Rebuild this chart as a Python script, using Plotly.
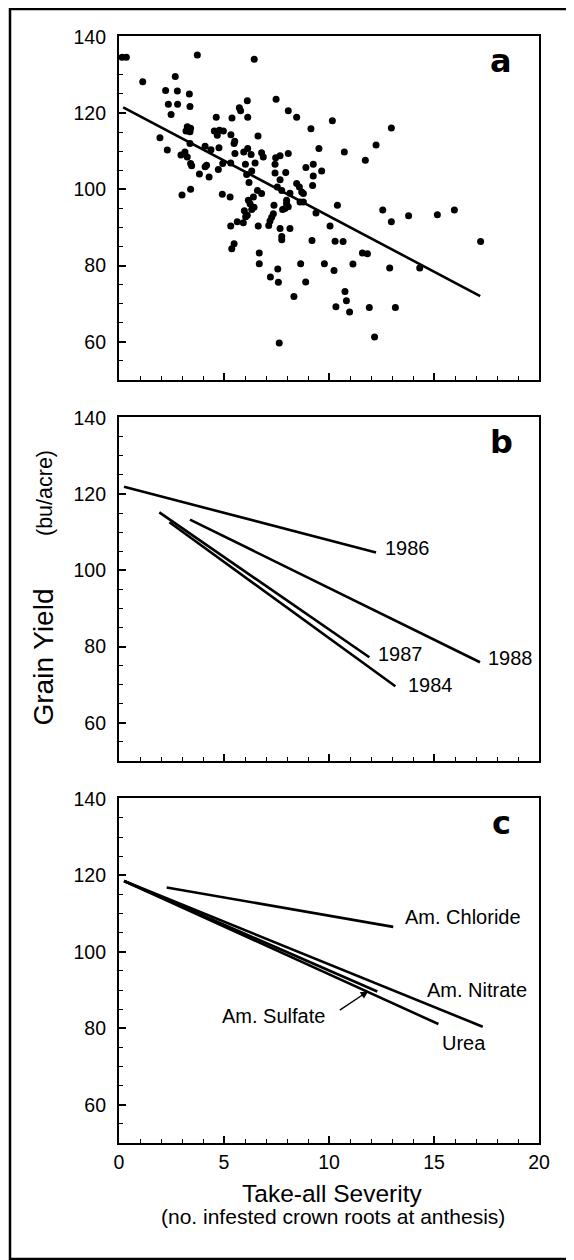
import plotly.graph_objects as go

# ---------------- data ----------------
# Panel a: individual observations (take-all severity, grain yield)
sev = [0.15, 0.35, 3.73, 6.44, 1.13, 2.68, 2.22, 2.78, 3.35, 2.35, 2.79, 3.38, 2.48, 6.11, 7.48,
       5.73, 5.79, 8.06, 8.46, 6.13, 4.63, 5.38, 10.16, 9.14, 3.25, 3.41, 3.19, 3.38, 4.54, 4.78,
       4.97, 4.68, 5.33, 1.95, 6.62, 5.51, 5.48, 3.38, 2.30, 4.10, 4.38, 4.76, 2.95, 3.14, 3.25,
       3.41, 3.46, 5.52, 5.94, 6.13, 6.29, 6.79, 6.87, 7.46, 7.67, 8.06, 9.52, 4.94, 5.32, 4.17,
       4.10, 6.02, 6.48, 7.43, 8.90, 9.25, 4.73, 3.83, 4.29, 6.08, 6.32, 7.43, 7.94, 9.25, 9.65,
       6.19, 7.67, 8.46, 8.59, 9.22, 7.54, 7.75, 6.59, 6.79, 8.14, 8.70, 8.78, 4.92, 5.29, 3.00,
       3.41, 6.40, 5.32, 5.63, 5.92, 6.03, 6.11, 5.97, 6.32, 6.43, 6.24, 6.16, 6.63, 7.13, 7.19,
       7.27, 7.35, 7.38, 7.79, 7.90, 8.06, 7.98, 7.98, 7.67, 7.75, 7.75, 8.14, 8.62, 8.78, 9.38,
       10.05, 10.29, 9.19, 10.40, 5.37, 5.48, 6.68, 6.68, 7.56, 7.21, 7.59, 8.65, 8.89, 9.78, 10.24,
       8.33, 10.33, 7.63, 12.97, 12.24, 10.73, 11.73, 12.56, 12.97, 13.79, 15.16, 15.97, 17.22, 10.67,
       11.59, 11.83, 11.14, 12.89, 14.32, 10.76, 10.83, 10.98, 11.92, 13.16, 12.17]
yld = [134.6, 134.6, 135.2, 134.1, 128.2, 129.6, 125.9, 125.8, 125.0, 122.3, 122.3, 121.7, 119.6, 123.2, 123.6,
       121.4, 120.6, 120.6, 118.9, 118.9, 118.9, 118.7, 118.0, 115.9, 116.4, 116.0, 115.3, 115.1, 115.3, 115.5,
       115.3, 114.2, 114.3, 113.5, 114.0, 112.6, 112.0, 112.0, 110.3, 111.3, 110.4, 110.9, 109.0, 109.8, 108.5,
       106.8, 106.2, 109.4, 109.8, 110.7, 109.1, 109.6, 108.5, 108.3, 108.8, 109.4, 110.7, 106.8, 106.9, 106.3,
       105.9, 106.6, 106.9, 106.6, 105.7, 106.6, 105.2, 104.0, 103.2, 103.9, 104.8, 104.3, 104.4, 103.5, 104.8,
       101.8, 102.5, 101.5, 100.6, 101.0, 100.6, 99.7, 99.7, 98.9, 99.0, 99.3, 98.9, 98.7, 98.0, 98.5,
       100.0, 98.0, 90.4, 91.5, 91.2, 92.8, 93.2, 94.4, 94.7, 95.3, 96.2, 97.1, 90.4, 90.5, 91.7,
       92.7, 93.6, 95.8, 94.7, 95.0, 95.4, 96.3, 97.1, 89.7, 87.6, 86.8, 89.7, 96.7, 96.7, 93.8,
       90.4, 86.4, 86.6, 95.8, 84.4, 85.7, 83.3, 80.5, 79.1, 77.0, 75.6, 80.5, 75.7, 80.5, 78.7,
       71.9, 69.2, 59.7, 116.1, 111.6, 109.8, 107.6, 94.6, 91.5, 93.1, 93.3, 94.6, 86.3, 86.3,
       83.3, 83.1, 80.4, 79.4, 79.4, 73.2, 70.8, 67.8, 69.0, 69.0, 61.3]

# Panel a: overall regression line (endpoints)
reg_x = [0.2, 17.2]
reg_y = [121.5, 72.0]

# Panel b: regression lines by year
years = ["1986", "1987", "1984", "1988"]
year_x0 = [0.24, 1.92, 2.40, 3.38]
year_y0 = [121.9, 115.2, 112.6, 113.3]
year_x1 = [12.24, 11.92, 13.16, 17.19]
year_y1 = [104.7, 77.2, 69.6, 75.9]

# Panel c: regression lines by nitrogen source
sources = ["Am. Chloride", "Am. Nitrate", "Urea", "Am. Sulfate"]
src_x0 = [2.27, 0.24, 0.24, 0.24]
src_y0 = [116.8, 118.5, 118.5, 118.5]
src_x1 = [13.06, 17.32, 15.21, 12.30]
src_y1 = [106.5, 80.4, 81.1, 89.6]

x_ticks = [0, 5, 10, 15, 20]
y_ticks = [60, 80, 100, 120, 140]

# ---------------- figure ----------------
FONT = "Liberation Sans, Arial, Helvetica, sans-serif"
OFF = 8                       # page offset introduced by the html body margin
W, H = 574 - OFF, 1260 - OFF
L, R, T, B = 119 - OFF, 539 - OFF, 36 - OFF, 1143 - OFF   # plot-area bounds (figure px)


def pxx(px):   # page pixel -> paper x
    return (px - OFF - L) / (R - L)


def pxy(py):   # page pixel -> paper y
    return (B - (py - OFF)) / (B - T)


fig = go.Figure()
LW = 2.6

fig.add_trace(go.Scatter(x=sev, y=yld, mode="markers",
                         marker=dict(size=7, color="black"),
                         xaxis="x", yaxis="y", showlegend=False, hoverinfo="skip"))
fig.add_trace(go.Scatter(x=reg_x, y=reg_y, mode="lines",
                         line=dict(color="black", width=LW),
                         xaxis="x", yaxis="y", showlegend=False, hoverinfo="skip"))

for i, yr in enumerate(years):
    fig.add_trace(go.Scatter(x=[year_x0[i], year_x1[i]], y=[year_y0[i], year_y1[i]],
                             mode="lines", line=dict(color="black", width=LW),
                             xaxis="x2", yaxis="y2", showlegend=False, name=yr))

for i, s in enumerate(sources):
    fig.add_trace(go.Scatter(x=[src_x0[i], src_x1[i]], y=[src_y0[i], src_y1[i]],
                             mode="lines", line=dict(color="black", width=LW),
                             xaxis="x3", yaxis="y3", showlegend=False, name=s))

domains = {
    1: [pxy(380), 1.0],
    2: [pxy(761), pxy(417)],
    3: [0.0, pxy(798)],
}

common_x = dict(range=[0, 20], tickvals=x_ticks, ticks="inside", ticklen=7, tickwidth=1.7,
                tickcolor="black", showline=True, linecolor="black", linewidth=2.2, mirror=True,
                showgrid=False, zeroline=False,
                minor=dict(dtick=1, tick0=0, ticks="inside", ticklen=3.5, tickwidth=1.4,
                           tickcolor="black", showgrid=False),
                tickfont=dict(family=FONT, size=19.5, color="black"))
common_y = dict(range=[50, 140.2], tickvals=y_ticks, ticks="inside", ticklen=7, tickwidth=1.7,
                tickcolor="black", showline=True, linecolor="black", linewidth=2.2, mirror=True,
                showgrid=False, zeroline=False, ticklabelstandoff=7,
                minor=dict(dtick=5, tick0=0, ticks="inside", ticklen=3.5, tickwidth=1.4,
                           tickcolor="black", showgrid=False),
                tickfont=dict(family=FONT, size=19.5, color="black"))

layout = dict(width=W, height=H, paper_bgcolor="white", plot_bgcolor="white",
              margin=dict(l=L, r=W - R, t=T, b=H - B, pad=0), showlegend=False)
for k in (1, 2, 3):
    sx = "" if k == 1 else str(k)
    xa = dict(common_x, anchor="y" + sx, domain=[0, 1], showticklabels=(k == 3))
    ya = dict(common_y, anchor="x" + sx, domain=domains[k])
    layout["xaxis" + sx] = xa
    layout["yaxis" + sx] = ya
fig.update_layout(**layout)

ann = []
# panel letters
for k, letter in zip((1, 2, 3), ("a", "b", "c")):
    sx = "" if k == 1 else str(k)
    ann.append(dict(x=18.2, y=133.6, xref="x" + sx, yref="y" + sx, text=letter,
                    showarrow=False, xanchor="center", yanchor="middle",
                    font=dict(family="DejaVu Sans", size=32, color="black", weight="bold")))

lab_font = dict(family=FONT, size=20, color="black")
# panel b labels
year_lab = {"1986": (12.59, 105.8), "1987": (12.24, 78.0), "1988": (17.48, 77.1), "1984": (13.67, 69.8)}
for yr in years:
    lx, ly = year_lab[yr]
    ann.append(dict(x=lx, y=ly, xref="x2", yref="y2", text=yr, showarrow=False,
                    xanchor="left", yanchor="middle", font=lab_font))
# panel c labels
src_lab = {"Am. Chloride": (13.51, 109.2, "left"), "Am. Nitrate": (14.57, 90.0, "left"),
           "Urea": (15.29, 76.2, "left"), "Am. Sulfate": (9.89, 83.3, "right")}
for s in sources:
    lx, ly, anc = src_lab[s]
    ann.append(dict(x=lx, y=ly, xref="x3", yref="y3", text=s, showarrow=False,
                    xanchor=anc, yanchor="middle", font=lab_font))
# arrow for Am. Sulfate
ann.append(dict(x=11.87, y=89.7, ax=10.44, ay=84.5, xref="x3", yref="y3",
                axref="x3", ayref="y3", text="", showarrow=True,
                arrowhead=2, arrowsize=1.1, arrowwidth=1.4, arrowcolor="black"))

# axis titles
ann.append(dict(x=pxx(332), y=pxy(1193), xref="paper", yref="paper", text="Take-all Severity",
                showarrow=False, xanchor="center", yanchor="middle",
                font=dict(family=FONT, size=24.5, color="black")))
ann.append(dict(x=pxx(332.5), y=pxy(1216), xref="paper", yref="paper",
                text="(no. infested crown roots at anthesis)",
                showarrow=False, xanchor="center", yanchor="middle",
                font=dict(family=FONT, size=21, color="black")))
ann.append(dict(x=pxx(42.5), y=pxy(657), xref="paper", yref="paper", text="Grain Yield",
                showarrow=False, xanchor="center", yanchor="middle", textangle=-90,
                font=dict(family=FONT, size=28, color="black")))
ann.append(dict(x=pxx(45), y=pxy(493), xref="paper", yref="paper", text="(bu/acre)",
                showarrow=False, xanchor="center", yanchor="middle", textangle=-90,
                font=dict(family=FONT, size=21.5, color="black")))

fig.update_layout(annotations=ann)

# outer frame of the figure
fig.add_shape(type="rect", xref="paper", yref="paper",
              x0=pxx(10), x1=pxx(573), y0=pxy(1259), y1=pxy(9),
              line=dict(color="black", width=2.5), fillcolor="rgba(0,0,0,0)", layer="below")

fig.write_html("out.html")
